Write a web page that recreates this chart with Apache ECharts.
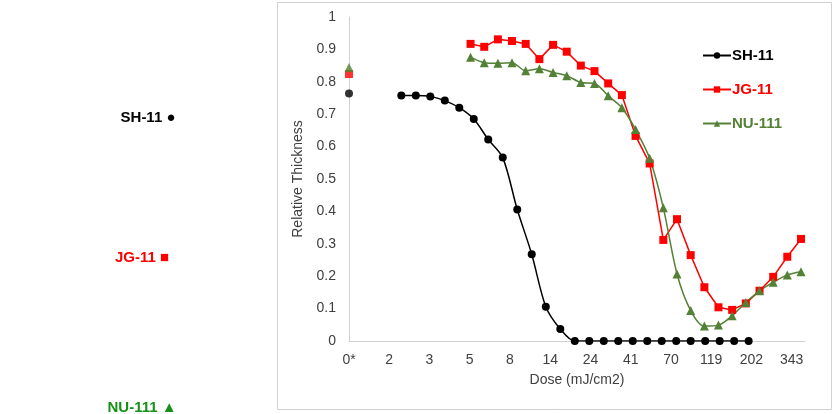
<!DOCTYPE html>
<html>
<head>
<meta charset="utf-8">
<script src="https://cdn.jsdelivr.net/npm/echarts@6/dist/echarts.min.js"></script>
<style>
  html, body { margin: 0; background: #fff; }
  #chart { width: 834px; height: 414px; }
</style>
</head>
<body>
<div id="chart"></div>
<script>
// tick labels of the dose axis (one per unit)
const doseLabels = ['0*', '2', '3', '5', '8', '14', '24', '41', '70', '119', '202', '343'];

// axis positions of the exposures (in label units)
const shPos = [0, 1.30, 1.66, 2.02, 2.38, 2.74, 3.10, 3.46, 3.82, 4.18, 4.54, 4.89, 5.25, 5.61, 5.97,
  6.33, 6.69, 7.05, 7.41, 7.77, 8.13, 8.49, 8.85, 9.21, 9.57, 9.93];
const jgPos = [0, 3.02, 3.36, 3.70, 4.05, 4.39, 4.73, 5.07, 5.41, 5.76, 6.10, 6.44, 6.78, 7.12, 7.47,
  7.81, 8.15, 8.49, 8.83, 9.18, 9.52, 9.86, 10.20, 10.54, 10.89, 11.23];

const sh11 = [0.764, 0.758, 0.758, 0.755, 0.742, 0.720, 0.685, 0.622, 0.566, 0.406, 0.268, 0.106, 0.037,
  0, 0, 0, 0, 0, 0, 0, 0, 0, 0, 0, 0, 0];
const jg11 = [0.824, 0.917, 0.908, 0.931, 0.926, 0.917, 0.870, 0.914, 0.893, 0.850, 0.833, 0.795, 0.759,
  0.633, 0.548, 0.312, 0.376, 0.265, 0.166, 0.104, 0.096, 0.116, 0.155, 0.198, 0.260, 0.315];
const nu111 = [0.844, 0.876, 0.859, 0.857, 0.859, 0.834, 0.840, 0.829, 0.819, 0.798, 0.795, 0.757, 0.720,
  0.653, 0.564, 0.411, 0.207, 0.094, 0.046, 0.049, 0.078, 0.119, 0.155, 0.181, 0.204, 0.214];

function pairs(pos, vals) {
  return vals.map((v, i) => [pos[i], v]);
}
// first point (0*) stands alone, the rest is a connected line
function head(pos, vals) { return [[pos[0], vals[0]]]; }
function tail(pos, vals) { return pairs(pos, vals).slice(1); }

const chart = echarts.init(document.getElementById('chart'));
const font = 'Liberation Sans, Arial, sans-serif';

function series(name, color, symbol, size, pos, vals, smooth) {
  return [{
    name: name, type: 'line', data: tail(pos, vals), smooth: smooth,
    symbol: symbol, symbolSize: size,
    lineStyle: { color: color, width: 1.5 }, itemStyle: { color: color }
  }, {
    name: name, type: 'scatter', data: head(pos, vals),
    symbol: symbol, symbolSize: size, itemStyle: { color: color }
  }];
}

chart.setOption({
  animation: false,
  textStyle: { fontFamily: font },
  graphic: [
    { type: 'rect', shape: { x: 277.5, y: 2.5, width: 554, height: 407 },
      style: { fill: 'none', stroke: '#d0d0d0', lineWidth: 1 } },
    { type: 'text', x: 148, y: 118, style: { text: 'SH-11 ●', fill: '#000', font: 'bold 15px ' + font, align: 'center', verticalAlign: 'middle' } },
    { type: 'text', x: 142, y: 258, style: { text: 'JG-11 ■', fill: '#ff0000', font: 'bold 15px ' + font, align: 'center', verticalAlign: 'middle' } },
    { type: 'text', x: 142, y: 408, style: { text: 'NU-111 ▲', fill: '#169016', font: 'bold 15px ' + font, align: 'center', verticalAlign: 'middle' } }
  ],
  grid: { left: 349, right: 29, top: 17, bottom: 73 },
  legend: {
    orient: 'vertical', left: 697, top: 43, itemGap: 19, itemWidth: 28, itemHeight: 8,
    data: [
      { name: 'SH-11', textStyle: { color: '#000' } },
      { name: 'JG-11', textStyle: { color: '#ff0000' } },
      { name: 'NU-111', textStyle: { color: '#538135' } }
    ],
    textStyle: { fontWeight: 'bold', fontSize: 15, fontFamily: font, padding: [0, 0, 0, -4] }
  },
  xAxis: {
    type: 'value', min: 0, max: 11.33, interval: 1,
    name: 'Dose (mJ/cm2)', nameLocation: 'middle', nameGap: 32,
    nameTextStyle: { fontSize: 14, color: '#404040' },
    axisLine: { lineStyle: { color: '#d0d0d0' } },
    axisTick: { show: false },
    splitLine: { show: false },
    axisLabel: { color: '#404040', fontSize: 14, margin: 12, showMaxLabel: false,
      formatter: v => doseLabels[Math.round(v)] || '' }
  },
  yAxis: {
    type: 'value', min: 0, max: 1, interval: 0.1,
    name: 'Relative Thickness', nameLocation: 'middle', nameGap: 38,
    nameTextStyle: { fontSize: 14, color: '#404040' },
    axisLine: { show: true, lineStyle: { color: '#d0d0d0' } },
    axisTick: { show: false },
    splitLine: { show: false },
    axisLabel: { color: '#404040', fontSize: 14, margin: 13,
      formatter: v => v === 0 ? '0' : (v === 1 ? '1' : v.toFixed(1)) }
  },
  series: [
    ...series('SH-11', '#000000', 'circle', 8, shPos, sh11, 0.3),
    ...series('JG-11', '#ff0000', 'rect', 8, jgPos, jg11, false),
    ...series('NU-111', '#538135', 'triangle', 9, jgPos, nu111, 0.3)
  ]
});
</script>
</body>
</html>
